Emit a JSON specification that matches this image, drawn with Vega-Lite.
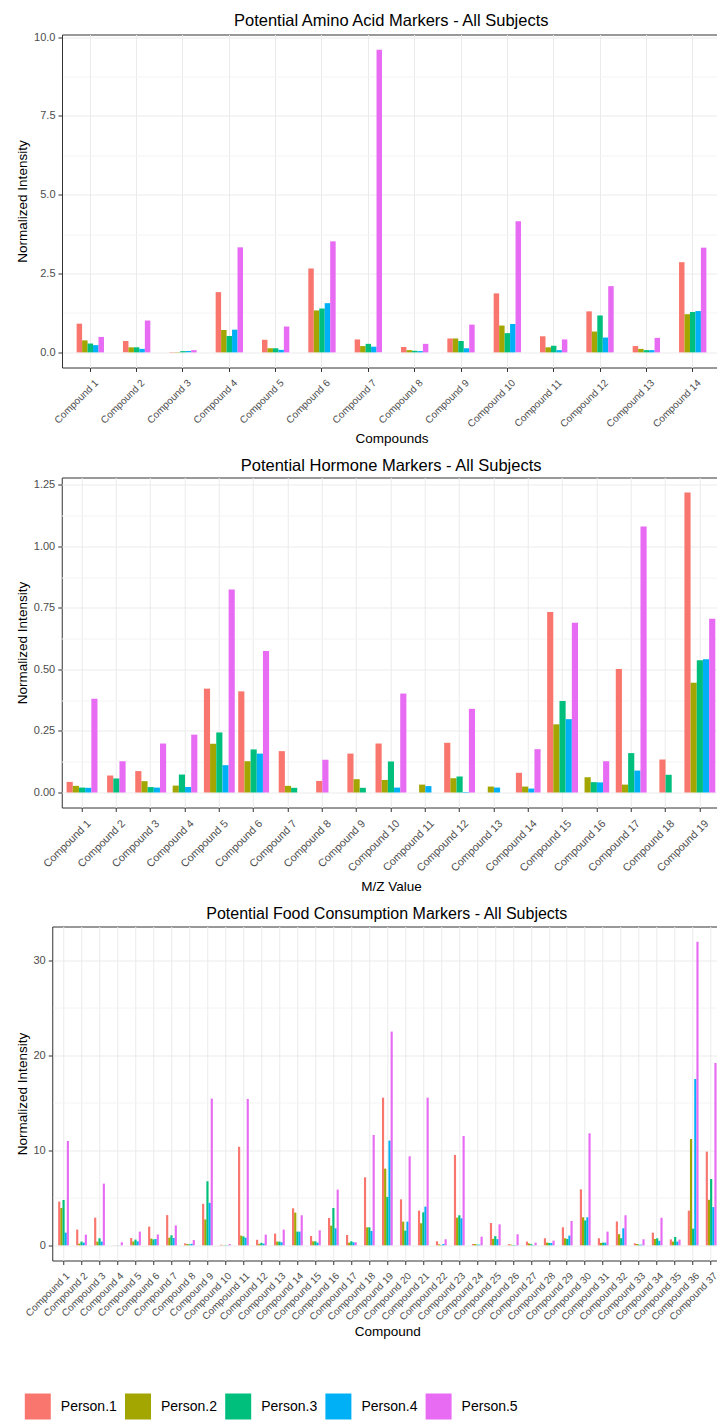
{
  "$schema": "https://vega.github.io/schema/vega-lite/v6.json",
  "padding": {"left": 14, "top": 12.5, "right": 0, "bottom": 0},
  "background": "white",
  "config": {
    "font": "Liberation Sans",
    "view": {"stroke": "#333333", "strokeWidth": 1},
    "axis": {"domain": false, "gridColor": "#EBEBEB", "gridWidth": 1, "tickColor": "#333333", "tickSize": 4, "labelColor": "#4D4D4D", "labelFontSize": 11, "labelFont": "Liberation Sans", "titleFont": "Liberation Sans", "titleFontSize": 13.5, "titleFontWeight": "normal", "titleColor": "#000000", "labelPadding": 3, "titlePadding": 4},
    "axisX": {"labelAngle": -45, "labelFontSize": 10, "bandPosition": 0.5, "labelOverlap": false, "titlePadding": 3, "labelPadding": 6, "labelOffset": 3},
    "title": {"fontSize": 16.5, "fontWeight": "normal", "color": "#000000", "offset": 3, "font": "Liberation Sans"}
  },
  "datasets": {
    "amino": [
      {"compound": "Compound 1", "person": "Person.1", "value": 0.91}, {"compound": "Compound 1", "person": "Person.2", "value": 0.38}, {"compound": "Compound 1", "person": "Person.3", "value": 0.28}, {"compound": "Compound 1", "person": "Person.4", "value": 0.23}, {"compound": "Compound 1", "person": "Person.5", "value": 0.49},
      {"compound": "Compound 2", "person": "Person.1", "value": 0.36}, {"compound": "Compound 2", "person": "Person.2", "value": 0.16}, {"compound": "Compound 2", "person": "Person.3", "value": 0.16}, {"compound": "Compound 2", "person": "Person.4", "value": 0.11}, {"compound": "Compound 2", "person": "Person.5", "value": 1.01},
      {"compound": "Compound 3", "person": "Person.1", "value": 0.01}, {"compound": "Compound 3", "person": "Person.2", "value": 0.01}, {"compound": "Compound 3", "person": "Person.3", "value": 0.04}, {"compound": "Compound 3", "person": "Person.4", "value": 0.04}, {"compound": "Compound 3", "person": "Person.5", "value": 0.07},
      {"compound": "Compound 4", "person": "Person.1", "value": 1.91}, {"compound": "Compound 4", "person": "Person.2", "value": 0.71}, {"compound": "Compound 4", "person": "Person.3", "value": 0.52}, {"compound": "Compound 4", "person": "Person.4", "value": 0.72}, {"compound": "Compound 4", "person": "Person.5", "value": 3.33},
      {"compound": "Compound 5", "person": "Person.1", "value": 0.40}, {"compound": "Compound 5", "person": "Person.2", "value": 0.13}, {"compound": "Compound 5", "person": "Person.3", "value": 0.13}, {"compound": "Compound 5", "person": "Person.4", "value": 0.08}, {"compound": "Compound 5", "person": "Person.5", "value": 0.82},
      {"compound": "Compound 6", "person": "Person.1", "value": 2.66}, {"compound": "Compound 6", "person": "Person.2", "value": 1.33}, {"compound": "Compound 6", "person": "Person.3", "value": 1.39}, {"compound": "Compound 6", "person": "Person.4", "value": 1.56}, {"compound": "Compound 6", "person": "Person.5", "value": 3.52},
      {"compound": "Compound 7", "person": "Person.1", "value": 0.41}, {"compound": "Compound 7", "person": "Person.2", "value": 0.20}, {"compound": "Compound 7", "person": "Person.3", "value": 0.27}, {"compound": "Compound 7", "person": "Person.4", "value": 0.18}, {"compound": "Compound 7", "person": "Person.5", "value": 9.60},
      {"compound": "Compound 8", "person": "Person.1", "value": 0.17}, {"compound": "Compound 8", "person": "Person.2", "value": 0.07}, {"compound": "Compound 8", "person": "Person.3", "value": 0.05}, {"compound": "Compound 8", "person": "Person.4", "value": 0.04}, {"compound": "Compound 8", "person": "Person.5", "value": 0.27},
      {"compound": "Compound 9", "person": "Person.1", "value": 0.44}, {"compound": "Compound 9", "person": "Person.2", "value": 0.44}, {"compound": "Compound 9", "person": "Person.3", "value": 0.36}, {"compound": "Compound 9", "person": "Person.4", "value": 0.13}, {"compound": "Compound 9", "person": "Person.5", "value": 0.88},
      {"compound": "Compound 10", "person": "Person.1", "value": 1.87}, {"compound": "Compound 10", "person": "Person.2", "value": 0.85}, {"compound": "Compound 10", "person": "Person.3", "value": 0.61}, {"compound": "Compound 10", "person": "Person.4", "value": 0.90}, {"compound": "Compound 10", "person": "Person.5", "value": 4.16},
      {"compound": "Compound 11", "person": "Person.1", "value": 0.51}, {"compound": "Compound 11", "person": "Person.2", "value": 0.16}, {"compound": "Compound 11", "person": "Person.3", "value": 0.21}, {"compound": "Compound 11", "person": "Person.4", "value": 0.07}, {"compound": "Compound 11", "person": "Person.5", "value": 0.41},
      {"compound": "Compound 12", "person": "Person.1", "value": 1.30}, {"compound": "Compound 12", "person": "Person.2", "value": 0.66}, {"compound": "Compound 12", "person": "Person.3", "value": 1.17}, {"compound": "Compound 12", "person": "Person.4", "value": 0.47}, {"compound": "Compound 12", "person": "Person.5", "value": 2.10},
      {"compound": "Compound 13", "person": "Person.1", "value": 0.20}, {"compound": "Compound 13", "person": "Person.2", "value": 0.11}, {"compound": "Compound 13", "person": "Person.3", "value": 0.07}, {"compound": "Compound 13", "person": "Person.4", "value": 0.07}, {"compound": "Compound 13", "person": "Person.5", "value": 0.46},
      {"compound": "Compound 14", "person": "Person.1", "value": 2.86}, {"compound": "Compound 14", "person": "Person.2", "value": 1.21}, {"compound": "Compound 14", "person": "Person.3", "value": 1.28}, {"compound": "Compound 14", "person": "Person.4", "value": 1.31}, {"compound": "Compound 14", "person": "Person.5", "value": 3.32}
    ],
    "hormone": [
      {"compound": "Compound 1", "person": "Person.1", "value": 0.043}, {"compound": "Compound 1", "person": "Person.2", "value": 0.027}, {"compound": "Compound 1", "person": "Person.3", "value": 0.020}, {"compound": "Compound 1", "person": "Person.4", "value": 0.019}, {"compound": "Compound 1", "person": "Person.5", "value": 0.381},
      {"compound": "Compound 2", "person": "Person.1", "value": 0.069}, {"compound": "Compound 2", "person": "Person.3", "value": 0.057}, {"compound": "Compound 2", "person": "Person.5", "value": 0.127},
      {"compound": "Compound 3", "person": "Person.1", "value": 0.087}, {"compound": "Compound 3", "person": "Person.2", "value": 0.046}, {"compound": "Compound 3", "person": "Person.3", "value": 0.022}, {"compound": "Compound 3", "person": "Person.4", "value": 0.020}, {"compound": "Compound 3", "person": "Person.5", "value": 0.199},
      {"compound": "Compound 4", "person": "Person.2", "value": 0.028}, {"compound": "Compound 4", "person": "Person.3", "value": 0.073}, {"compound": "Compound 4", "person": "Person.4", "value": 0.022}, {"compound": "Compound 4", "person": "Person.5", "value": 0.235},
      {"compound": "Compound 5", "person": "Person.1", "value": 0.422}, {"compound": "Compound 5", "person": "Person.2", "value": 0.198}, {"compound": "Compound 5", "person": "Person.3", "value": 0.244}, {"compound": "Compound 5", "person": "Person.4", "value": 0.111}, {"compound": "Compound 5", "person": "Person.5", "value": 0.825},
      {"compound": "Compound 6", "person": "Person.1", "value": 0.411}, {"compound": "Compound 6", "person": "Person.2", "value": 0.127}, {"compound": "Compound 6", "person": "Person.3", "value": 0.175}, {"compound": "Compound 6", "person": "Person.4", "value": 0.158}, {"compound": "Compound 6", "person": "Person.5", "value": 0.575},
      {"compound": "Compound 7", "person": "Person.1", "value": 0.168}, {"compound": "Compound 7", "person": "Person.2", "value": 0.027}, {"compound": "Compound 7", "person": "Person.3", "value": 0.019},
      {"compound": "Compound 8", "person": "Person.1", "value": 0.047}, {"compound": "Compound 8", "person": "Person.5", "value": 0.133},
      {"compound": "Compound 9", "person": "Person.1", "value": 0.158}, {"compound": "Compound 9", "person": "Person.2", "value": 0.054}, {"compound": "Compound 9", "person": "Person.3", "value": 0.019},
      {"compound": "Compound 10", "person": "Person.1", "value": 0.199}, {"compound": "Compound 10", "person": "Person.2", "value": 0.051}, {"compound": "Compound 10", "person": "Person.3", "value": 0.126}, {"compound": "Compound 10", "person": "Person.4", "value": 0.020}, {"compound": "Compound 10", "person": "Person.5", "value": 0.402},
      {"compound": "Compound 11", "person": "Person.2", "value": 0.032}, {"compound": "Compound 11", "person": "Person.4", "value": 0.026},
      {"compound": "Compound 12", "person": "Person.1", "value": 0.202}, {"compound": "Compound 12", "person": "Person.2", "value": 0.058}, {"compound": "Compound 12", "person": "Person.3", "value": 0.065}, {"compound": "Compound 12", "person": "Person.4", "value": 0.002}, {"compound": "Compound 12", "person": "Person.5", "value": 0.340},
      {"compound": "Compound 13", "person": "Person.2", "value": 0.024}, {"compound": "Compound 13", "person": "Person.4", "value": 0.020},
      {"compound": "Compound 14", "person": "Person.1", "value": 0.080}, {"compound": "Compound 14", "person": "Person.2", "value": 0.024}, {"compound": "Compound 14", "person": "Person.4", "value": 0.016}, {"compound": "Compound 14", "person": "Person.5", "value": 0.176},
      {"compound": "Compound 15", "person": "Person.1", "value": 0.733}, {"compound": "Compound 15", "person": "Person.2", "value": 0.277}, {"compound": "Compound 15", "person": "Person.3", "value": 0.372}, {"compound": "Compound 15", "person": "Person.4", "value": 0.298}, {"compound": "Compound 15", "person": "Person.5", "value": 0.690},
      {"compound": "Compound 16", "person": "Person.2", "value": 0.062}, {"compound": "Compound 16", "person": "Person.3", "value": 0.042}, {"compound": "Compound 16", "person": "Person.4", "value": 0.041}, {"compound": "Compound 16", "person": "Person.5", "value": 0.127},
      {"compound": "Compound 17", "person": "Person.1", "value": 0.502}, {"compound": "Compound 17", "person": "Person.2", "value": 0.032}, {"compound": "Compound 17", "person": "Person.3", "value": 0.160}, {"compound": "Compound 17", "person": "Person.4", "value": 0.089}, {"compound": "Compound 17", "person": "Person.5", "value": 1.081},
      {"compound": "Compound 18", "person": "Person.1", "value": 0.134}, {"compound": "Compound 18", "person": "Person.3", "value": 0.072},
      {"compound": "Compound 19", "person": "Person.1", "value": 1.219}, {"compound": "Compound 19", "person": "Person.2", "value": 0.446}, {"compound": "Compound 19", "person": "Person.3", "value": 0.537}, {"compound": "Compound 19", "person": "Person.4", "value": 0.541}, {"compound": "Compound 19", "person": "Person.5", "value": 0.706}
    ],
    "food": [
      {"compound": "Compound 1", "person": "Person.1", "value": 4.60}, {"compound": "Compound 1", "person": "Person.2", "value": 3.93}, {"compound": "Compound 1", "person": "Person.3", "value": 4.77}, {"compound": "Compound 1", "person": "Person.4", "value": 1.33}, {"compound": "Compound 1", "person": "Person.5", "value": 10.98},
      {"compound": "Compound 2", "person": "Person.1", "value": 1.65}, {"compound": "Compound 2", "person": "Person.2", "value": 0.18}, {"compound": "Compound 2", "person": "Person.3", "value": 0.39}, {"compound": "Compound 2", "person": "Person.4", "value": 0.28}, {"compound": "Compound 2", "person": "Person.5", "value": 1.12},
      {"compound": "Compound 3", "person": "Person.1", "value": 2.91}, {"compound": "Compound 3", "person": "Person.2", "value": 0.39}, {"compound": "Compound 3", "person": "Person.3", "value": 0.74}, {"compound": "Compound 3", "person": "Person.4", "value": 0.39}, {"compound": "Compound 3", "person": "Person.5", "value": 6.49},
      {"compound": "Compound 4", "person": "Person.1", "value": 0.01}, {"compound": "Compound 4", "person": "Person.2", "value": 0.01}, {"compound": "Compound 4", "person": "Person.3", "value": 0.01}, {"compound": "Compound 4", "person": "Person.4", "value": 0.01}, {"compound": "Compound 4", "person": "Person.5", "value": 0.32},
      {"compound": "Compound 5", "person": "Person.1", "value": 0.77}, {"compound": "Compound 5", "person": "Person.2", "value": 0.40}, {"compound": "Compound 5", "person": "Person.3", "value": 0.60}, {"compound": "Compound 5", "person": "Person.4", "value": 0.42}, {"compound": "Compound 5", "person": "Person.5", "value": 1.44},
      {"compound": "Compound 6", "person": "Person.1", "value": 1.96}, {"compound": "Compound 6", "person": "Person.2", "value": 0.70}, {"compound": "Compound 6", "person": "Person.3", "value": 0.62}, {"compound": "Compound 6", "person": "Person.4", "value": 0.66}, {"compound": "Compound 6", "person": "Person.5", "value": 1.14},
      {"compound": "Compound 7", "person": "Person.1", "value": 3.18}, {"compound": "Compound 7", "person": "Person.2", "value": 0.80}, {"compound": "Compound 7", "person": "Person.3", "value": 1.05}, {"compound": "Compound 7", "person": "Person.4", "value": 0.77}, {"compound": "Compound 7", "person": "Person.5", "value": 2.09},
      {"compound": "Compound 8", "person": "Person.1", "value": 0.20}, {"compound": "Compound 8", "person": "Person.2", "value": 0.14}, {"compound": "Compound 8", "person": "Person.3", "value": 0.10}, {"compound": "Compound 8", "person": "Person.4", "value": 0.16}, {"compound": "Compound 8", "person": "Person.5", "value": 0.55},
      {"compound": "Compound 9", "person": "Person.1", "value": 4.37}, {"compound": "Compound 9", "person": "Person.2", "value": 2.72}, {"compound": "Compound 9", "person": "Person.3", "value": 6.74}, {"compound": "Compound 9", "person": "Person.4", "value": 4.47}, {"compound": "Compound 9", "person": "Person.5", "value": 15.44},
      {"compound": "Compound 10", "person": "Person.1", "value": 0.06}, {"compound": "Compound 10", "person": "Person.2", "value": 0.02}, {"compound": "Compound 10", "person": "Person.3", "value": 0.02}, {"compound": "Compound 10", "person": "Person.4", "value": 0.02}, {"compound": "Compound 10", "person": "Person.5", "value": 0.12},
      {"compound": "Compound 11", "person": "Person.1", "value": 10.37}, {"compound": "Compound 11", "person": "Person.2", "value": 1.02}, {"compound": "Compound 11", "person": "Person.3", "value": 0.93}, {"compound": "Compound 11", "person": "Person.4", "value": 0.80}, {"compound": "Compound 11", "person": "Person.5", "value": 15.40},
      {"compound": "Compound 12", "person": "Person.1", "value": 0.58}, {"compound": "Compound 12", "person": "Person.2", "value": 0.15}, {"compound": "Compound 12", "person": "Person.3", "value": 0.26}, {"compound": "Compound 12", "person": "Person.4", "value": 0.18}, {"compound": "Compound 12", "person": "Person.5", "value": 1.12},
      {"compound": "Compound 13", "person": "Person.1", "value": 1.23}, {"compound": "Compound 13", "person": "Person.2", "value": 0.39}, {"compound": "Compound 13", "person": "Person.3", "value": 0.39}, {"compound": "Compound 13", "person": "Person.4", "value": 0.32}, {"compound": "Compound 13", "person": "Person.5", "value": 1.65},
      {"compound": "Compound 14", "person": "Person.1", "value": 3.89}, {"compound": "Compound 14", "person": "Person.2", "value": 3.44}, {"compound": "Compound 14", "person": "Person.3", "value": 1.44}, {"compound": "Compound 14", "person": "Person.4", "value": 1.44}, {"compound": "Compound 14", "person": "Person.5", "value": 3.16},
      {"compound": "Compound 15", "person": "Person.1", "value": 0.98}, {"compound": "Compound 15", "person": "Person.2", "value": 0.42}, {"compound": "Compound 15", "person": "Person.3", "value": 0.42}, {"compound": "Compound 15", "person": "Person.4", "value": 0.28}, {"compound": "Compound 15", "person": "Person.5", "value": 1.58},
      {"compound": "Compound 16", "person": "Person.1", "value": 2.88}, {"compound": "Compound 16", "person": "Person.2", "value": 2.07}, {"compound": "Compound 16", "person": "Person.3", "value": 3.93}, {"compound": "Compound 16", "person": "Person.4", "value": 1.79}, {"compound": "Compound 16", "person": "Person.5", "value": 5.86},
      {"compound": "Compound 17", "person": "Person.1", "value": 1.09}, {"compound": "Compound 17", "person": "Person.2", "value": 0.28}, {"compound": "Compound 17", "person": "Person.3", "value": 0.42}, {"compound": "Compound 17", "person": "Person.4", "value": 0.32}, {"compound": "Compound 17", "person": "Person.5", "value": 0.32},
      {"compound": "Compound 18", "person": "Person.1", "value": 7.16}, {"compound": "Compound 18", "person": "Person.2", "value": 1.89}, {"compound": "Compound 18", "person": "Person.3", "value": 1.89}, {"compound": "Compound 18", "person": "Person.4", "value": 1.51}, {"compound": "Compound 18", "person": "Person.5", "value": 11.61},
      {"compound": "Compound 19", "person": "Person.1", "value": 15.54}, {"compound": "Compound 19", "person": "Person.2", "value": 8.07}, {"compound": "Compound 19", "person": "Person.3", "value": 5.09}, {"compound": "Compound 19", "person": "Person.4", "value": 11.02}, {"compound": "Compound 19", "person": "Person.5", "value": 22.5},
      {"compound": "Compound 20", "person": "Person.1", "value": 4.84}, {"compound": "Compound 20", "person": "Person.2", "value": 2.49}, {"compound": "Compound 20", "person": "Person.3", "value": 1.54}, {"compound": "Compound 20", "person": "Person.4", "value": 2.49}, {"compound": "Compound 20", "person": "Person.5", "value": 9.37},
      {"compound": "Compound 21", "person": "Person.1", "value": 3.65}, {"compound": "Compound 21", "person": "Person.2", "value": 2.32}, {"compound": "Compound 21", "person": "Person.3", "value": 3.47}, {"compound": "Compound 21", "person": "Person.4", "value": 4.07}, {"compound": "Compound 21", "person": "Person.5", "value": 15.54},
      {"compound": "Compound 22", "person": "Person.1", "value": 0.42}, {"compound": "Compound 22", "person": "Person.2", "value": 0.10}, {"compound": "Compound 22", "person": "Person.3", "value": 0.03}, {"compound": "Compound 22", "person": "Person.4", "value": 0.14}, {"compound": "Compound 22", "person": "Person.5", "value": 0.63},
      {"compound": "Compound 23", "person": "Person.1", "value": 9.51}, {"compound": "Compound 23", "person": "Person.2", "value": 2.91}, {"compound": "Compound 23", "person": "Person.3", "value": 3.16}, {"compound": "Compound 23", "person": "Person.4", "value": 2.84}, {"compound": "Compound 23", "person": "Person.5", "value": 11.51},
      {"compound": "Compound 24", "person": "Person.1", "value": 0.14}, {"compound": "Compound 24", "person": "Person.2", "value": 0.14}, {"compound": "Compound 24", "person": "Person.3", "value": 0.07}, {"compound": "Compound 24", "person": "Person.4", "value": 0.07}, {"compound": "Compound 24", "person": "Person.5", "value": 0.91},
      {"compound": "Compound 25", "person": "Person.1", "value": 2.35}, {"compound": "Compound 25", "person": "Person.2", "value": 0.68}, {"compound": "Compound 25", "person": "Person.3", "value": 0.96}, {"compound": "Compound 25", "person": "Person.4", "value": 0.65}, {"compound": "Compound 25", "person": "Person.5", "value": 2.21},
      {"compound": "Compound 26", "person": "Person.1", "value": 0.12}, {"compound": "Compound 26", "person": "Person.2", "value": 0.07}, {"compound": "Compound 26", "person": "Person.3", "value": 0.03}, {"compound": "Compound 26", "person": "Person.4", "value": 0.03}, {"compound": "Compound 26", "person": "Person.5", "value": 1.16},
      {"compound": "Compound 27", "person": "Person.1", "value": 0.39}, {"compound": "Compound 27", "person": "Person.2", "value": 0.20}, {"compound": "Compound 27", "person": "Person.3", "value": 0.12}, {"compound": "Compound 27", "person": "Person.4", "value": 0.03}, {"compound": "Compound 27", "person": "Person.5", "value": 0.28},
      {"compound": "Compound 28", "person": "Person.1", "value": 0.74}, {"compound": "Compound 28", "person": "Person.2", "value": 0.28}, {"compound": "Compound 28", "person": "Person.3", "value": 0.25}, {"compound": "Compound 28", "person": "Person.4", "value": 0.25}, {"compound": "Compound 28", "person": "Person.5", "value": 0.49},
      {"compound": "Compound 29", "person": "Person.1", "value": 1.89}, {"compound": "Compound 29", "person": "Person.2", "value": 0.74}, {"compound": "Compound 29", "person": "Person.3", "value": 0.67}, {"compound": "Compound 29", "person": "Person.4", "value": 1.02}, {"compound": "Compound 29", "person": "Person.5", "value": 2.56},
      {"compound": "Compound 30", "person": "Person.1", "value": 5.89}, {"compound": "Compound 30", "person": "Person.2", "value": 2.95}, {"compound": "Compound 30", "person": "Person.3", "value": 2.62}, {"compound": "Compound 30", "person": "Person.4", "value": 2.95}, {"compound": "Compound 30", "person": "Person.5", "value": 11.79},
      {"compound": "Compound 31", "person": "Person.1", "value": 0.74}, {"compound": "Compound 31", "person": "Person.2", "value": 0.25}, {"compound": "Compound 31", "person": "Person.3", "value": 0.28}, {"compound": "Compound 31", "person": "Person.4", "value": 0.28}, {"compound": "Compound 31", "person": "Person.5", "value": 1.44},
      {"compound": "Compound 32", "person": "Person.1", "value": 2.51}, {"compound": "Compound 32", "person": "Person.2", "value": 1.17}, {"compound": "Compound 32", "person": "Person.3", "value": 0.75}, {"compound": "Compound 32", "person": "Person.4", "value": 1.79}, {"compound": "Compound 32", "person": "Person.5", "value": 3.16},
      {"compound": "Compound 33", "person": "Person.1", "value": 0.20}, {"compound": "Compound 33", "person": "Person.2", "value": 0.14}, {"compound": "Compound 33", "person": "Person.3", "value": 0.07}, {"compound": "Compound 33", "person": "Person.4", "value": 0.07}, {"compound": "Compound 33", "person": "Person.5", "value": 0.63},
      {"compound": "Compound 34", "person": "Person.1", "value": 1.33}, {"compound": "Compound 34", "person": "Person.2", "value": 0.67}, {"compound": "Compound 34", "person": "Person.3", "value": 0.74}, {"compound": "Compound 34", "person": "Person.4", "value": 0.47}, {"compound": "Compound 34", "person": "Person.5", "value": 2.90},
      {"compound": "Compound 35", "person": "Person.1", "value": 0.62}, {"compound": "Compound 35", "person": "Person.2", "value": 0.39}, {"compound": "Compound 35", "person": "Person.3", "value": 0.88}, {"compound": "Compound 35", "person": "Person.4", "value": 0.39}, {"compound": "Compound 35", "person": "Person.5", "value": 0.60},
      {"compound": "Compound 36", "person": "Person.1", "value": 3.65}, {"compound": "Compound 36", "person": "Person.2", "value": 11.19}, {"compound": "Compound 36", "person": "Person.3", "value": 1.75}, {"compound": "Compound 36", "person": "Person.4", "value": 17.51}, {"compound": "Compound 36", "person": "Person.5", "value": 31.96},
      {"compound": "Compound 37", "person": "Person.1", "value": 9.86}, {"compound": "Compound 37", "person": "Person.2", "value": 4.79}, {"compound": "Compound 37", "person": "Person.3", "value": 6.98}, {"compound": "Compound 37", "person": "Person.4", "value": 4.02}, {"compound": "Compound 37", "person": "Person.5", "value": 19.19}
    ]
  },
  "spacing": 11,
  "center": true,
  "resolve": {"scale": {"xOffset": "independent", "color": "shared"}},
  "vconcat": [
    {
      "title": {"text": "Potential Amino Acid Markers - All Subjects", "offset": 1.5},
      "data": {"name": "amino"},
      "width": 658.5,
      "height": 333,
      "mark": {"type": "bar"},
      "encoding": {
        "x": {"field": "compound", "type": "nominal", "scale": {"domain": ["Compound 1", "Compound 2", "Compound 3", "Compound 4", "Compound 5", "Compound 6", "Compound 7", "Compound 8", "Compound 9", "Compound 10", "Compound 11", "Compound 12", "Compound 13", "Compound 14"], "paddingInner": 0.41, "paddingOuter": 0.305, "range": [0.5, 658.5]}, "axis": {"title": "Compounds", "grid": true}},
        "xOffset": {"field": "person", "type": "nominal"},
        "y": {"field": "value", "type": "quantitative", "scale": {"domain": [-0.48, 10.08], "nice": false, "zero": false}, "axis": {"title": "Normalized Intensity", "values": [0, 1.25, 2.5, 3.75, 5, 6.25, 7.5, 8.75, 10], "format": ".1f", "labelExpr": "datum.value % 2.5 === 0 ? datum.label : ''", "gridColor": {"condition": {"test": "datum.value % 2.5 !== 0", "value": "#F4F4F4"}, "value": "#EBEBEB"}, "tickOpacity": {"condition": {"test": "datum.value % 2.5 !== 0", "value": 0}, "value": 1}}},
        "color": {"field": "person", "type": "nominal", "scale": {"domain": ["Person.1", "Person.2", "Person.3", "Person.4", "Person.5"], "range": ["#F8766D", "#A3A500", "#00BF7D", "#00B0F6", "#E76BF3"]}, "legend": {"title": null, "orient": "none", "legendX": -27.2, "legendY": 1359, "direction": "horizontal", "symbolType": "square", "symbolSize": 676, "symbolStrokeWidth": 0, "symbolOpacity": 1, "labelFontSize": 14, "labelColor": "#000000", "labelFont": "Liberation Sans", "labelOffset": 10, "columnPadding": 7.2}}
      }
    },
    {
      "title": "Potential Hormone Markers - All Subjects",
      "data": {"name": "hormone"},
      "width": 658.7,
      "height": 330,
      "transform": [
        {"window": [{"op": "row_number", "as": "slot"}, {"op": "count", "as": "n"}], "groupby": ["compound"], "sort": [{"field": "person", "order": "ascending"}], "frame": [null, null]},
        {"calculate": "datum.slot - (datum.n + 1) / 2", "as": "dodge"}
      ],
      "mark": {"type": "bar", "width": 6.15},
      "encoding": {
        "x": {"field": "compound", "type": "nominal", "scale": {"domain": ["Compound 1", "Compound 2", "Compound 3", "Compound 4", "Compound 5", "Compound 6", "Compound 7", "Compound 8", "Compound 9", "Compound 10", "Compound 11", "Compound 12", "Compound 13", "Compound 14", "Compound 15", "Compound 16", "Compound 17", "Compound 18", "Compound 19"], "paddingInner": 0.1, "paddingOuter": 0.15, "range": [-0.3, 658.7]}, "axis": {"title": "M/Z Value", "grid": true, "labelFontSize": 10.8, "titlePadding": 6}},
        "xOffset": {"field": "dodge", "type": "quantitative", "scale": {"domain": [-2.5, 2.5], "nice": false, "zero": false}},
        "y": {"field": "value", "type": "quantitative", "scale": {"domain": [-0.061, 1.28], "nice": false, "zero": false}, "axis": {"title": "Normalized Intensity", "values": [0, 0.125, 0.25, 0.375, 0.5, 0.625, 0.75, 0.875, 1, 1.125, 1.25], "format": ".2f", "labelExpr": "datum.value % 0.25 === 0 ? datum.label : ''", "gridColor": {"condition": {"test": "datum.value % 0.25 !== 0", "value": "#F4F4F4"}, "value": "#EBEBEB"}, "tickOpacity": {"condition": {"test": "datum.value % 0.25 !== 0", "value": 0}, "value": 1}}},
        "color": {"field": "person", "type": "nominal", "legend": {"title": null, "orient": "none", "legendX": -27.2, "legendY": 1359, "direction": "horizontal", "symbolType": "square", "symbolSize": 676, "symbolStrokeWidth": 0, "symbolOpacity": 1, "labelFontSize": 14, "labelColor": "#000000", "labelFont": "Liberation Sans", "labelOffset": 10, "columnPadding": 7.2}}
      }
    },
    {
      "title": {"text": "Potential Food Consumption Markers - All Subjects", "fontSize": 16, "offset": 5, "dx": -4.5},
      "data": {"name": "food"},
      "width": 678,
      "height": 334,
      "mark": {"type": "bar"},
      "encoding": {
        "x": {"field": "compound", "type": "nominal", "scale": {"domain": ["Compound 1", "Compound 2", "Compound 3", "Compound 4", "Compound 5", "Compound 6", "Compound 7", "Compound 8", "Compound 9", "Compound 10", "Compound 11", "Compound 12", "Compound 13", "Compound 14", "Compound 15", "Compound 16", "Compound 17", "Compound 18", "Compound 19", "Compound 20", "Compound 21", "Compound 22", "Compound 23", "Compound 24", "Compound 25", "Compound 26", "Compound 27", "Compound 28", "Compound 29", "Compound 30", "Compound 31", "Compound 32", "Compound 33", "Compound 34", "Compound 35", "Compound 36", "Compound 37"], "paddingInner": 0.4, "paddingOuter": 0.3, "range": [0.5, 669.7]}, "axis": {"title": "Compound", "grid": true, "labelOffset": 1}},
        "xOffset": {"field": "person", "type": "nominal"},
        "y": {"field": "value", "type": "quantitative", "scale": {"domain": [-1.6, 33.56], "nice": false, "zero": false}, "axis": {"title": "Normalized Intensity", "values": [0, 5, 10, 15, 20, 25, 30], "format": "d", "labelExpr": "datum.value % 10 === 0 ? datum.label : ''", "gridColor": {"condition": {"test": "datum.value % 10 !== 0", "value": "#F4F4F4"}, "value": "#EBEBEB"}, "tickOpacity": {"condition": {"test": "datum.value % 10 !== 0", "value": 0}, "value": 1}}},
        "color": {"field": "person", "type": "nominal", "legend": {"title": null, "orient": "none", "legendX": -27.2, "legendY": 1359, "direction": "horizontal", "symbolType": "square", "symbolSize": 676, "symbolStrokeWidth": 0, "symbolOpacity": 1, "labelFontSize": 14, "labelColor": "#000000", "labelFont": "Liberation Sans", "labelOffset": 10, "columnPadding": 7.2}}
      }
    }
  ]
}
